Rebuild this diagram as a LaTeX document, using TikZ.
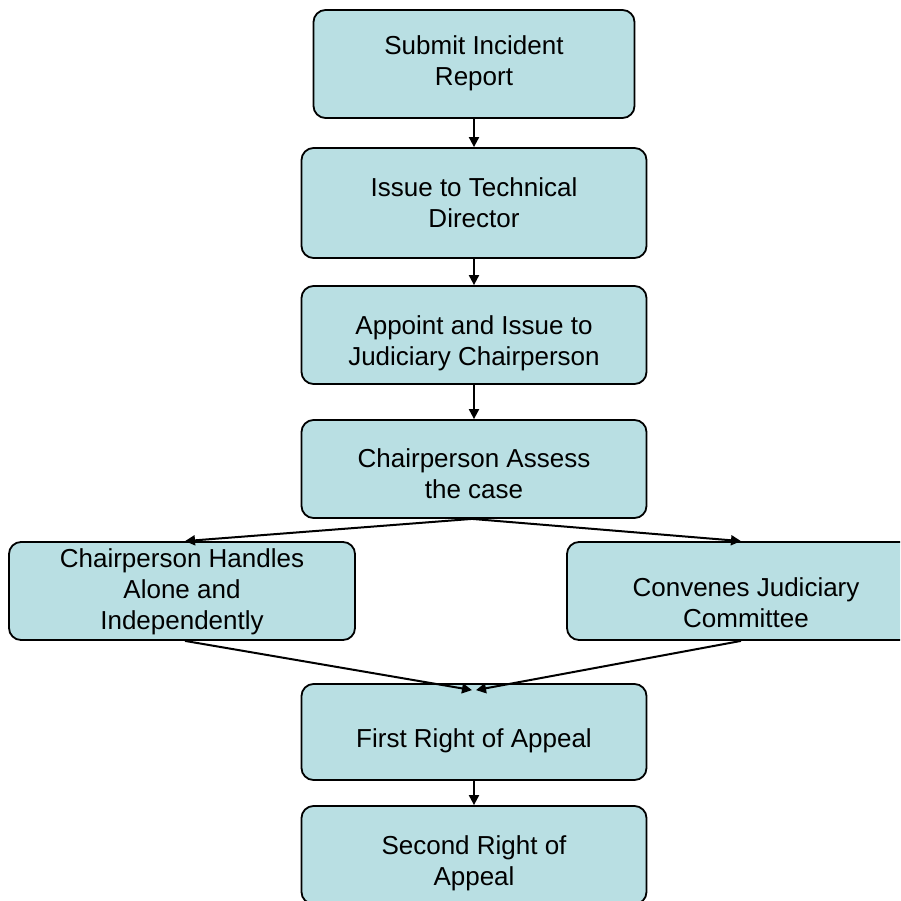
\documentclass[tikz,border=0pt]{standalone}
\usepackage{fontspec}
\setmainfont{Liberation Sans}
\usetikzlibrary{arrows.meta}
\definecolor{boxfill}{RGB}{185,223,227}
\begin{document}
\begin{tikzpicture}[x=1pt,y=-1pt,
  flowbox/.style={draw=black, line width=1.8pt, fill=boxfill, rounded corners=12pt, inner sep=0pt},
  flowtext/.style={align=center, font=\fontsize{26}{31}\selectfont, inner sep=0pt},
  flowarrow/.style={draw=black, line width=2pt, -{Triangle[length=10pt,width=10pt]}}]
\useasboundingbox (0,0) rectangle (900,901);
\clip (0,0) rectangle (900,901);
\node[flowbox, minimum width=321pt, minimum height=108pt] (n1) at (474,64) {};
\node[flowbox, minimum width=345pt, minimum height=110pt] (n2) at (474,203) {};
\node[flowbox, minimum width=345pt, minimum height=98pt] (n3) at (474,335) {};
\node[flowbox, minimum width=345pt, minimum height=98pt] (n4) at (474,469) {};
\node[flowbox, minimum width=346pt, minimum height=98pt] (n5) at (182,591) {};
\node[flowbox, minimum width=358pt, minimum height=98pt] (n6) at (746,591) {};
\node[flowbox, minimum width=345pt, minimum height=96pt] (n7) at (474,732) {};
\node[flowbox, minimum width=345pt, minimum height=98pt] (n8) at (474,855) {};
\node[flowtext] (t1) at ([yshift=1pt]n1.center) {Submit Incident\\Report};
\node[flowtext] (t2) at (n2.center) {Issue to Technical\\Director};
\node[flowtext] (t3) at ([yshift=-8pt]n3.center) {Appoint and Issue to\\Judiciary Chairperson};
\node[flowtext] (t4) at ([yshift=-5pt]n4.center) {Chairperson Assess\\the case};
\node[flowtext] (t5) at ([yshift=-1pt]n5.center) {Chairperson Handles\\Alone and\\Independently};
\node[flowtext] (t6) at ([yshift=-12pt]n6.center) {Convenes Judiciary\\Committee};
\node[flowtext] (t7) at ([yshift=-9pt]n7.center) {First Right of Appeal};
\node[flowtext] (t8) at ([yshift=-8pt]n8.center) {Second Right of\\Appeal};
\draw[flowarrow] (n1.south) -- (n2.north);
\draw[flowarrow] (n2.south) -- (n3.north);
\draw[flowarrow] (n3.south) -- (n4.north);
\draw[flowarrow] ([xshift=-2pt]n4.south) -- ([xshift=3pt]n5.north);
\draw[flowarrow] ([xshift=-2pt]n4.south) -- ([xshift=-5pt]n6.north);
\coordinate (m7l) at ([xshift=-2pt,yshift=-7pt]n7.north);
\coordinate (m7r) at ([xshift=2pt,yshift=-7pt]n7.north);
\draw[flowarrow] ([xshift=3pt]n5.south) -- (m7l);
\draw[flowarrow] ([xshift=-5pt]n6.south) -- (m7r);
\draw[flowarrow] (n7.south) -- (n8.north);
\end{tikzpicture}
\end{document}
